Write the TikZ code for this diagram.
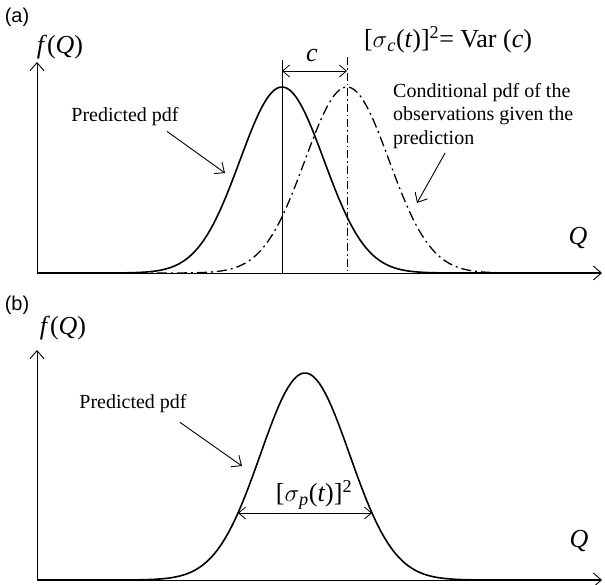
\documentclass[tikz,border=0pt]{standalone}
\usepackage{fontspec}
\setmainfont{Liberation Serif}
\setsansfont{Liberation Sans}
\usepackage{tikz}
\usetikzlibrary{arrows.meta}

\tikzset{
  txt/.style={font=\fontsize{20}{23.5}\selectfont, inner sep=1pt},
  big/.style={font=\fontsize{26}{30}\selectfont, inner sep=1pt},
  tag/.style={font=\sffamily\fontsize{20}{24}\selectfont, inner sep=1pt},
  barb/.style={-{Straight Barb[length=8pt,width=14pt]}},
  axis/.style={line width=0.9pt, barb},
  pdfline/.style={line width=1.6pt},
  cpdfline/.style={line width=1.3pt, dash pattern=on 10pt off 4pt on 2pt off 4pt},
  guide/.style={line width=0.8pt},
  cguide/.style={line width=0.8pt, dash pattern=on 8pt off 3pt on 1.5pt off 3pt},
  pointer/.style={line width=0.9pt, barb}
}

\begin{document}
\begin{tikzpicture}[x=1pt,y=-1pt]
\useasboundingbox (0,0) rectangle (605,584);

%% (a)
\coordinate (oa) at (37,273);
\coordinate (ya) at (37,62);
\coordinate (xa) at (602,273);
\draw[axis] (oa) -- (ya);
\draw[axis] (oa) -- (xa);

\draw[pdfline] (oa) -- (100,273)
  -- plot[domain=100:464, samples=120] (\x, {273-186*exp(-0.5*((\x-282)/42)^2)})
  -- (600,273);
\draw[cpdfline] (oa) -- (165,273)
  -- plot[domain=165:529, samples=120] (\x, {273-186*exp(-0.5*((\x-347)/42)^2)})
  -- (600,273);

\coordinate (mp) at (282,60);
\coordinate (mc) at (347,57);
\draw[guide] (mp) -- (282,273);
\draw[cguide] (mc) -- (347,273);
\coordinate (cl) at (282,71);
\coordinate (cr) at (347,71);
\draw[guide, {Straight Barb[length=7pt,width=12pt]}-{Straight Barb[length=7pt,width=12pt]}] (cl) -- (cr);

\node[tag] (taga) at (17,17) {(a)};
\node[big] (fa) at (60,47) {\textit{f}(\textit{Q})};
\node[big] (var) at (448,40) {[$\sigma$\textsubscript{\textit{c}}(\textit{t})]\textsuperscript{2}= Var (\textit{c})};
\node[big] (cc) at (312,55) {\textit{c}};
\node[txt] (preda) at (125,117) {Predicted pdf};
\node[txt, anchor=west, align=left] (cond) at (392,116) {Conditional pdf of the\\observations given the\\prediction};
\node[big] (qa) at (578,238) {\textit{Q}};

\coordinate (tipa) at (225,173);
\coordinate (tipc) at (417,203);
\draw[pointer] ([xshift=42pt,yshift=-4pt]preda.south) -- (tipa);
\draw[pointer] ([xshift=-38pt,yshift=-3pt]cond.south) -- (tipc);

%% (b)
\coordinate (ob) at (37,580);
\coordinate (yb) at (37,350);
\coordinate (xb) at (602,580);
\draw[axis] (ob) -- (yb);
\draw[axis] (ob) -- (xb);

\draw[pdfline] (ob) -- (120,580)
  -- plot[domain=120:490, samples=120] (\x, {580-207*exp(-0.5*((\x-305)/44.6)^2)})
  -- (600,580);

\coordinate (sl) at (238,513);
\coordinate (sr) at (372,513);
\draw[guide, {Straight Barb[length=7pt,width=12pt]}-{Straight Barb[length=7pt,width=12pt]}] (sl) -- (sr);

\node[tag] (tagb) at (17,305) {(b)};
\node[big] (fb) at (63,328) {\textit{f}(\textit{Q})};
\node[txt] (predb) at (133,404) {Predicted pdf};
\node[big] (sig) at (314,495) {[$\sigma$\textsubscript{\textit{p}}(\textit{t})]\textsuperscript{2}};
\node[big] (qb) at (579,541) {\textit{Q}};

\coordinate (tipb) at (242,466);
\draw[pointer] ([xshift=47pt,yshift=-8pt]predb.south) -- (tipb);
\end{tikzpicture}
\end{document}
